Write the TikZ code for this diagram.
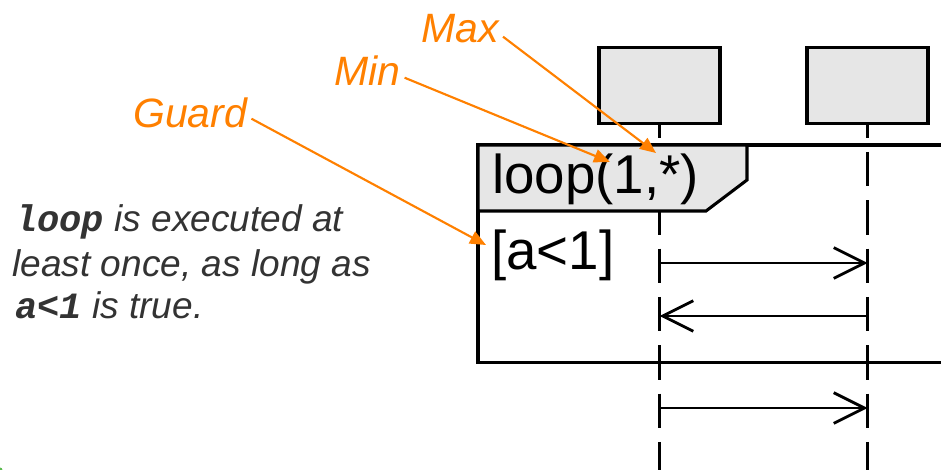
\documentclass[tikz,border=0pt]{standalone}
\usepackage{fontspec}
\setmainfont{Liberation Sans}
\setmonofont{Liberation Mono}
\usetikzlibrary{arrows.meta}
\definecolor{orng}{HTML}{FF8000}
\definecolor{boxgray}{HTML}{E6E6E6}
\definecolor{txtgray}{HTML}{333333}
\definecolor{slidegreen}{HTML}{5DBB50}
\tikzset{
  lifebox/.style={draw, line width=2.3pt, fill=boxgray, minimum width=90.75pt, minimum height=57pt, inner sep=0pt},
  lifeline/.style={line width=2.1pt, dash pattern=on 25.9pt off 10.35pt, dash phase=16.1pt},
  framebox/.style={line width=2.3pt},
  tabbox/.style={line width=2.3pt, fill=boxgray, line join=miter},
  msg/.style={line width=2.1pt, -{Straight Barb[length=23pt,width=23pt,line width=2.1pt]}},
  callout/.style={draw=orng, line width=1.6pt, -{Triangle[length=12pt,width=10pt,fill=orng]}},
  calloutlbl/.style={text=orng, font=\fontsize{30.75pt}{36pt}\selectfont\itshape, inner sep=3pt},
  desc/.style={text=txtgray, font=\fontsize{27.8pt}{32pt}\selectfont\itshape, inner sep=0pt, anchor=base west},
  big/.style={font=\fontsize{41pt}{48pt}\selectfont, inner sep=0pt, anchor=base west}
}
\begin{document}
\begin{tikzpicture}[x=0.75pt,y=-0.75pt]
\useasboundingbox (0,0) rectangle (941,470);
\clip (0,0) rectangle (941,470);

% lifeline end points
\coordinate (end1) at (659.5,475);
\coordinate (end2) at (867.5,475);

% lifeline heads (placed first as nodes, drawn again on top below)
\path (659.5,85.5) node[lifebox, draw=none, fill=none] (obj1) {};
\path (867.5,85.5) node[lifebox, draw=none, fill=none] (obj2) {};

% lifelines
\draw[lifeline] (obj1.south) -- (end1);
\draw[lifeline] (obj2.south) -- (end2);

% loop frame
\draw[framebox] (950,145) -- (478,145) -- (478,362.5) -- (950,362.5);
\filldraw[tabbox] (478,145) -- (747,145) -- (747,180) -- (706,211) -- (478,211) -- cycle;

% lifeline heads
\node[lifebox] (box1) at (659.5,85.5) {};
\node[lifebox] (box2) at (867.5,85.5) {};

% frame texts
\node[big] (op) at (492,194) {loop(1,*)};
\node[big] (guard) at (491,269) {[a<1]};

% messages
\coordinate (m1a) at (659.5,263);
\coordinate (m1b) at (867.5,263);
\coordinate (m2a) at (659.5,316);
\coordinate (m2b) at (867.5,316);
\coordinate (m3a) at (659.5,408);
\coordinate (m3b) at (867.5,408);
\draw[msg] (m1a) -- (m1b);
\draw[msg] (m2b) -- (m2a);
\draw[msg] (m3a) -- (m3b);

% callout labels
\node[calloutlbl, anchor=base west] (maxlbl) at (417,43) {Max};
\node[calloutlbl, anchor=base west] (minlbl) at (330,86) {Min};
\node[calloutlbl, anchor=base west] (guardlbl) at (129,128) {Guard};
\coordinate (maxtip) at (656,153);
\coordinate (mintip) at (610,162);
\coordinate (guardtip) at (486,245);
\draw[callout] (maxlbl.-10) -- (maxtip);
\draw[callout] (minlbl.-10) -- (mintip);
\draw[callout] (guardlbl.-5) -- (guardtip);

% description
\node[desc] (d1) at (15,232) {\texttt{\bfseries\itshape loop} is executed at};
\node[desc] (d2) at (12,276) {least once, as long as};
\node[desc] (d3) at (15,318) {\texttt{\bfseries\itshape a<1} is true.};

% slide corner decoration
\fill[slidegreen] (0,470) circle (2.5);
\end{tikzpicture}
\end{document}
